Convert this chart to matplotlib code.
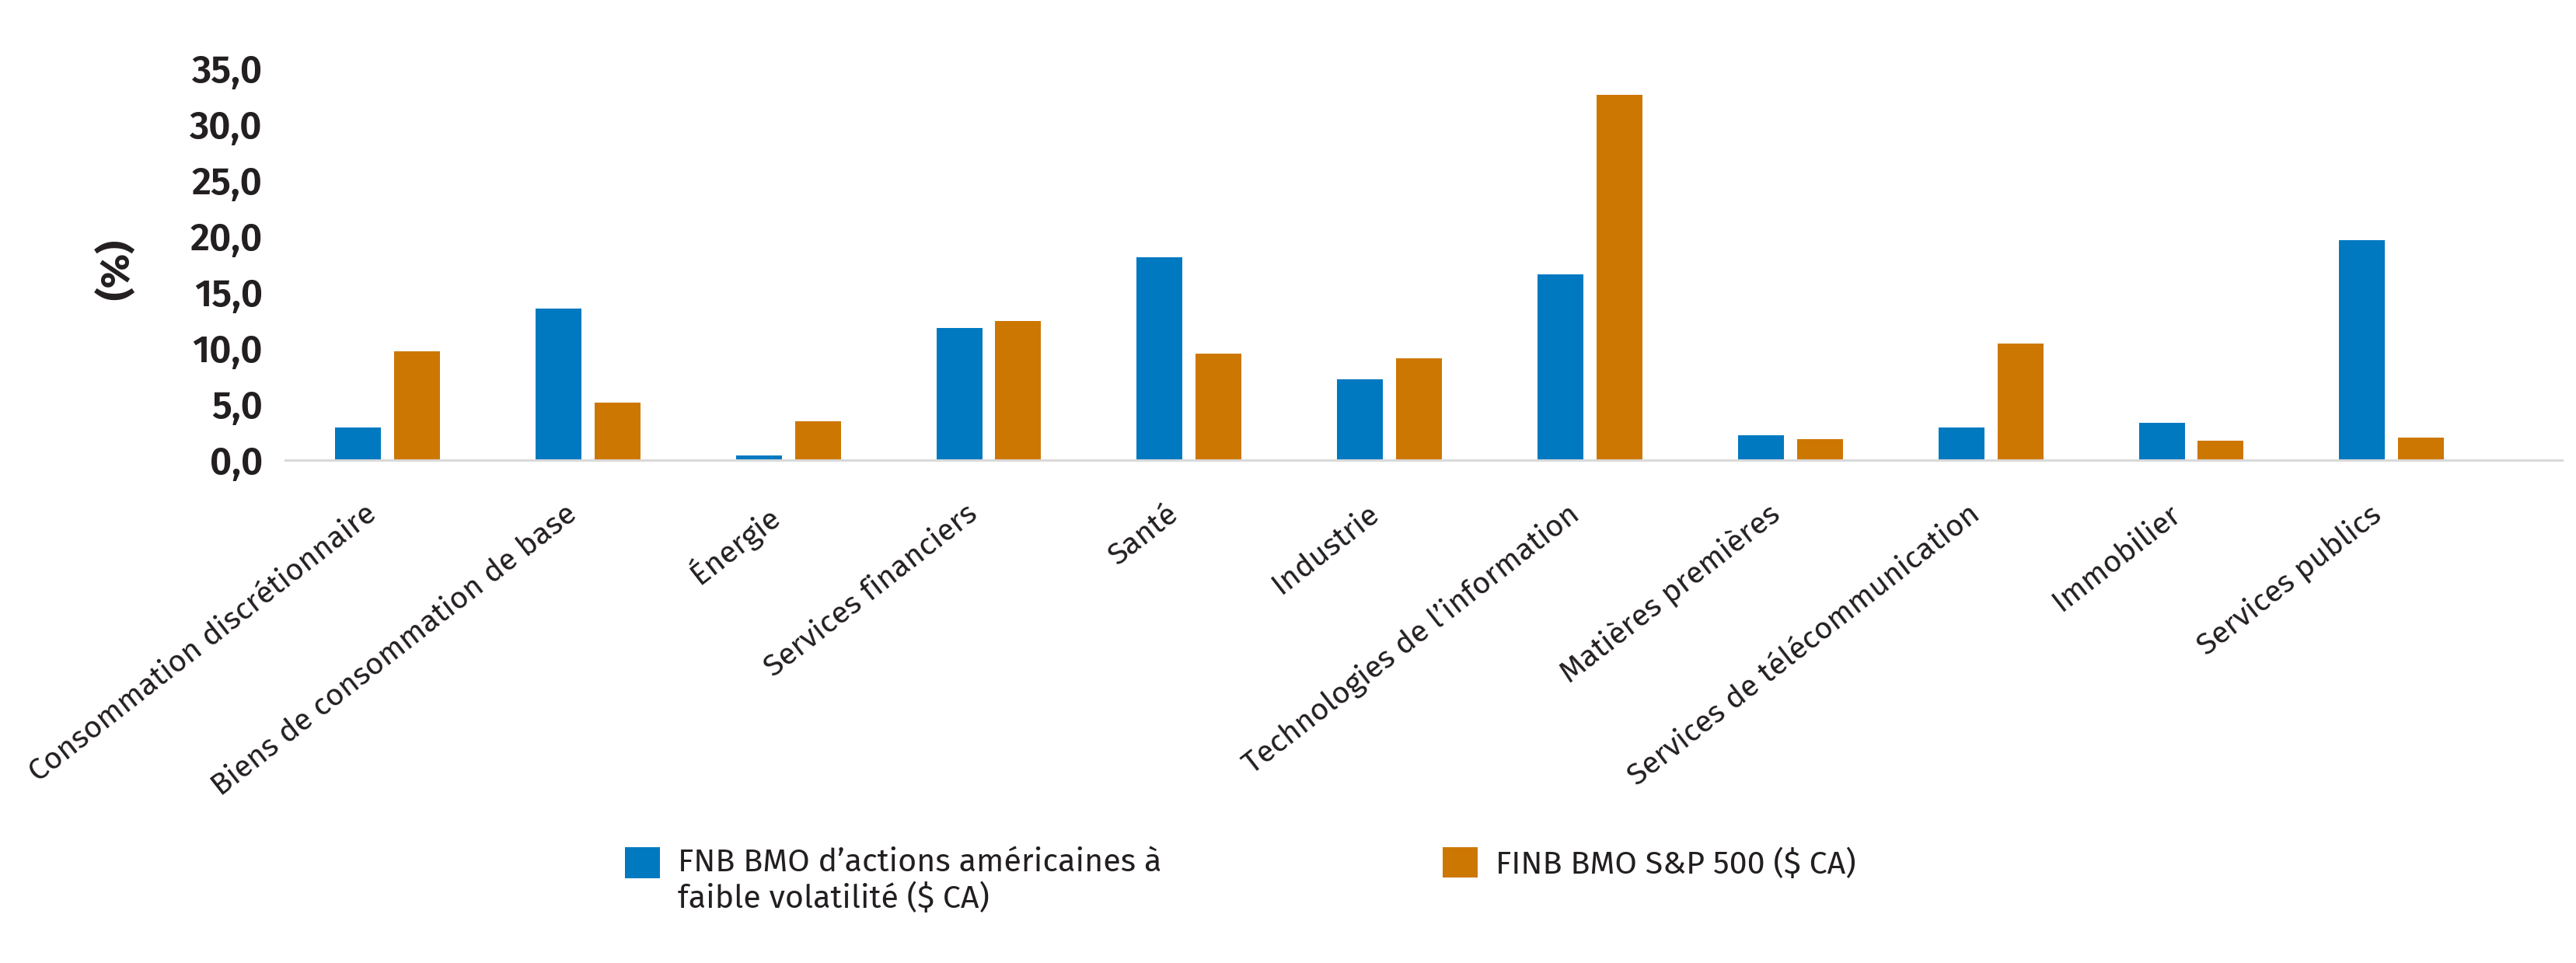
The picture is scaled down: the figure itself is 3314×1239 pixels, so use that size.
import matplotlib
matplotlib.use("Agg")
import matplotlib.pyplot as plt
import matplotlib.ticker as mticker
import matplotlib.transforms as mtransforms
from matplotlib.patches import Patch, Rectangle
from matplotlib.legend_handler import HandlerPatch
import numpy as np

REG = ['Fira Sans', 'DejaVu Sans']
plt.rcParams['font.family'] = REG

categories = [
    "Consommation discrétionnaire",
    "Biens de consommation de base",
    "Énergie",
    "Services financiers",
    "Santé",
    "Industrie",
    "Technologies de l’information",
    "Matières premières",
    "Services de télécommunication",
    "Immobilier",
    "Services publics",
]
low_vol = [2.9, 13.5, 0.4, 11.8, 18.1, 7.2, 16.6, 2.2, 2.9, 3.3, 19.6]
sp500 = [9.7, 5.1, 3.5, 12.4, 9.5, 9.1, 32.6, 1.9, 10.4, 1.7, 2.0]
series_names = [
    "FNB BMO d’actions américaines à\nfaible volatilité ($ CA)",
    "FINB BMO S&P 500 ($ CA)",
]
yticks = [0, 5, 10, 15, 20, 25, 30, 35]

BLUE = "#0079C1"
ORANGE = "#CD7703"
TEXT = "#231F20"

W, H = 3314, 1239
fig = plt.figure(figsize=(W / 100, H / 100), dpi=100)
renderer = fig.canvas.get_renderer()


def fit_size(text, family, weight, target_px, base=30.0):
    t = fig.text(0, 0, text, fontsize=base, family=family, fontweight=weight)
    w = t.get_window_extent(renderer).width
    t.remove()
    return base * target_px / w


fs_x = fit_size(categories[0], REG, 'normal', 556)
fs_y = fit_size("35,0", REG, 600, 91)
fs_lab = fit_size("(%)", REG, 'bold', 78)
fs_leg = fit_size("FNB BMO d’actions américaines à", REG, 'normal', 622)

ax = fig.add_axes([367 / W, 1 - 592 / H, 2929 / W, (592 - 87.5) / H])

x = np.arange(len(categories))
off = 0.147
bw = 0.229
ax.bar(x - off, low_vol, width=bw, color=BLUE, zorder=2)
ax.bar(x + off, sp500, width=bw, color=ORANGE, zorder=2)

ax.set_xlim(-0.51, 10.85)
ax.set_ylim(0, 35)
ax.set_yticks(yticks)
ax.yaxis.set_major_formatter(mticker.FuncFormatter(lambda v, p: f"{v:.1f}".replace(".", ",")))
ax.tick_params(axis='y', length=0, pad=21, labelsize=fs_y, labelcolor=TEXT)
for lbl in ax.get_yticklabels():
    lbl.set_fontweight(600)

ax.set_xticks(x)
ax.set_xticklabels([])
ax.tick_params(axis='x', length=0)
lab_tr = mtransforms.blended_transform_factory(ax.transData, ax.transAxes) + \
    mtransforms.ScaledTranslation(-0.30, -0.50, fig.dpi_scale_trans)
for xi, name in zip(x, categories):
    ax.text(xi, 0, name, transform=lab_tr, rotation=38, ha='right', va='top',
            rotation_mode='anchor', fontsize=fs_x, color=TEXT)

for s in ['top', 'right', 'left']:
    ax.spines[s].set_visible(False)
ax.spines['bottom'].set_color('#D9D9D9')
ax.spines['bottom'].set_linewidth(2.2)
ax.spines['bottom'].set_zorder(3)

ax.set_ylabel("(%)", fontsize=fs_lab, fontweight='bold', color=TEXT)
ax.yaxis.set_label_coords((177 - 367) / 2929, 17 / 35)


def top_patch(legend, orig_handle, xdescent, ydescent, width, height, fontsize):
    return Rectangle((-xdescent, -ydescent + 0.6 * fontsize), width, height)


hpt = 45 * 0.72  # handle size in points
common = dict(loc='upper left', frameon=False, fontsize=fs_leg,
              handlelength=hpt / fs_leg, handleheight=hpt / fs_leg,
              handletextpad=(23 * 0.72) / fs_leg, labelcolor=TEXT,
              borderpad=0, borderaxespad=0)
leg1 = fig.legend([Patch(facecolor=BLUE)], [series_names[0]],
                  bbox_to_anchor=(804 / W, 1 - 1090 / H),
                  handler_map={Patch: HandlerPatch(patch_func=top_patch)}, **common)
leg2 = fig.legend([Patch(facecolor=ORANGE)], [series_names[1]],
                  bbox_to_anchor=(1856 / W, 1 - 1090 / H), **common)

fig.savefig("out.png", dpi=100, facecolor='white')
